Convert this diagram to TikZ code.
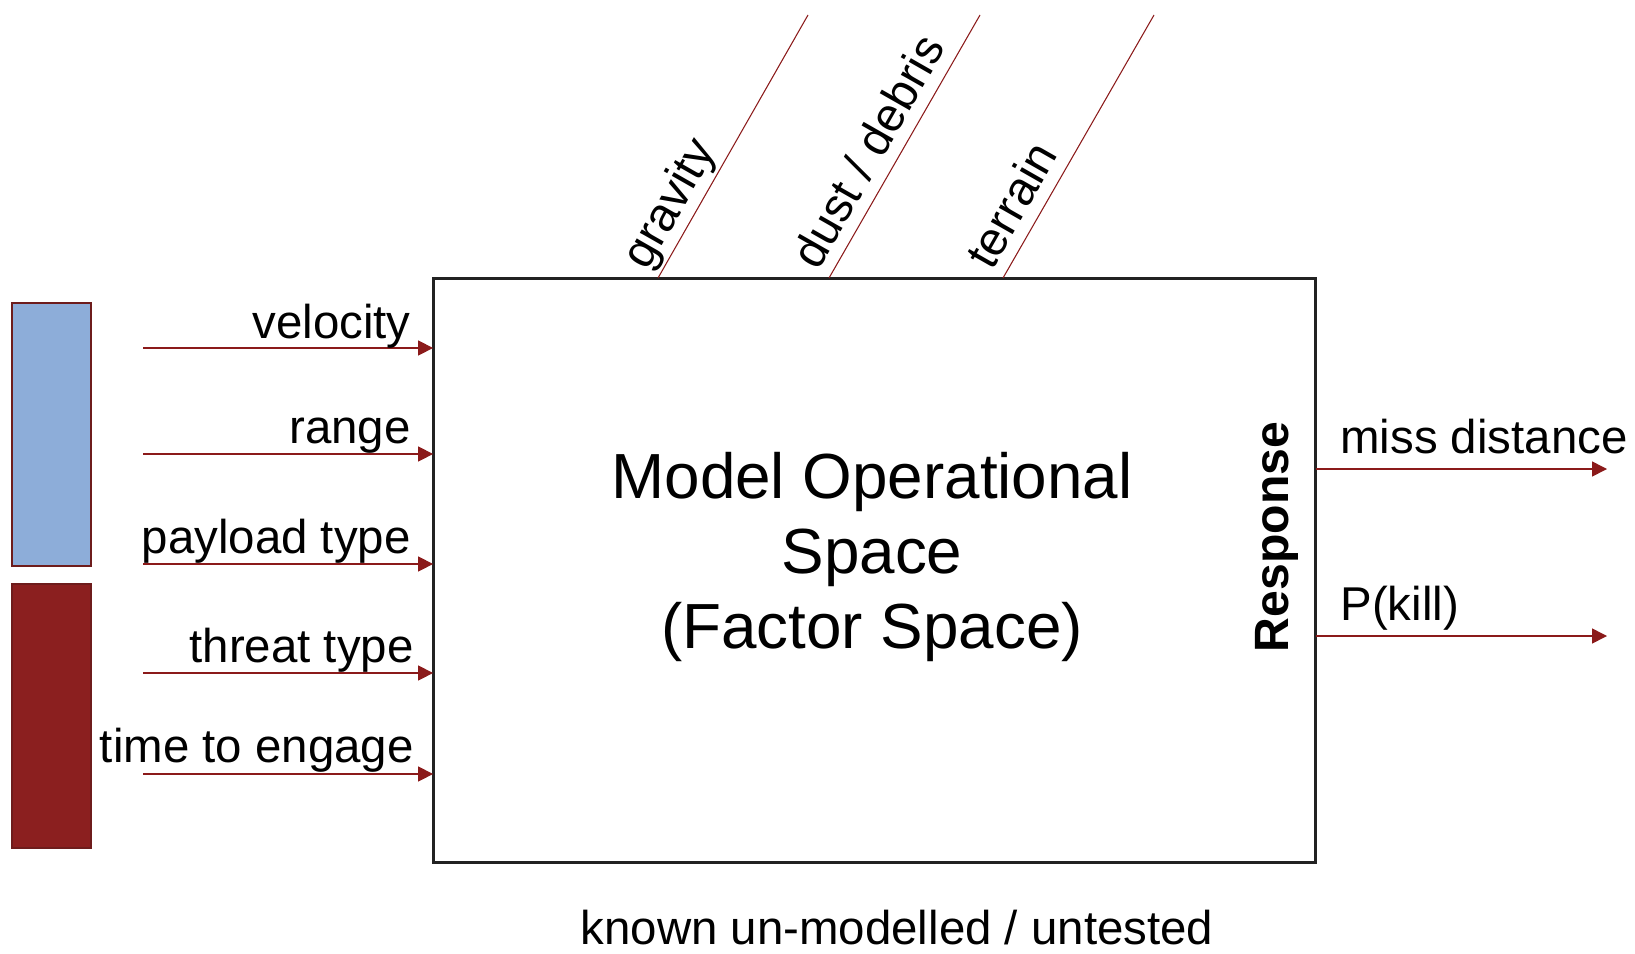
\documentclass[tikz,border=0pt]{standalone}
\usepackage{fontspec}
\setmainfont{Liberation Sans}
\usetikzlibrary{arrows.meta,calc}
\definecolor{arrred}{HTML}{8B1A1A}
\definecolor{barblue}{HTML}{8DADD9}
\definecolor{barred}{HTML}{8B1F1F}
\definecolor{baredge}{HTML}{6E1C1C}
\definecolor{boxline}{HTML}{222222}
\begin{document}
\begin{tikzpicture}[x=0.02cm,y=-0.02cm,
  lbl/.style={font=\fontsize{27pt}{32pt}\selectfont, inner sep=0pt},
  ttl/.style={font=\fontsize{36.3pt}{42pt}\selectfont, inner sep=0pt, anchor=base},
  arr/.style={draw=arrred, line width=0.85pt, -{Triangle[length=8.5pt,width=8.5pt]}},
  fac/.style={draw=arrred, line width=0.6pt},
  factxt/.style={font=\fontsize{27pt}{32pt}\selectfont, inner sep=0pt, rotate=60.3, anchor=base west},
  bar/.style={draw=baredge, line width=1.2pt, inner sep=0pt, minimum width=1.58cm}]
\useasboundingbox (0,0) rectangle (1635,953);

% bars
\node[bar, fill=barblue, minimum height=5.26cm] (bblue) at (51.5,434.5) {};
\node[bar, fill=barred, minimum height=5.28cm] (bred) at (51.5,716) {};

% main box
\node[draw=boxline, line width=1.7pt, minimum width=17.66cm, minimum height=11.7cm, inner sep=0pt, outer sep=0pt] (box) at (874.5,570.5) {};

% title
\node[ttl] (t1) at (872,498) {Model Operational};
\node[ttl] (t2) at (872,573) {Space};
\node[ttl] (t3) at (872,648) {(Factor Space)};

% response
\node[font=\fontsize{27.4pt}{32pt}\selectfont\bfseries, inner sep=0pt, rotate=90, anchor=base] (resp) at (1288,537) {Response};

% left inputs
\coordinate (a1) at (143,348);
\coordinate (a2) at (143,454);
\coordinate (a3) at (143,564);
\coordinate (a4) at (143,673);
\coordinate (a5) at (143,774);
\draw[arr] (a1) -- (a1 -| box.west);
\draw[arr] (a2) -- (a2 -| box.west);
\draw[arr] (a3) -- (a3 -| box.west);
\draw[arr] (a4) -- (a4 -| box.west);
\draw[arr] (a5) -- (a5 -| box.west);
\node[lbl, anchor=base east] (l1) at (411,338) {velocity};
\node[lbl, anchor=base east] (l2) at (411,443) {range};
\node[lbl, anchor=base east] (l3) at (411,553) {payload type};
\node[lbl, anchor=base east] (l4) at (414,662) {threat type};
\node[lbl, anchor=base east] (l5) at (414,762) {time to engage};

% right outputs
\coordinate (o1) at (1607,469);
\coordinate (o2) at (1607,636);
\draw[arr] (o1 -| box.east) -- (o1);
\draw[arr] (o2 -| box.east) -- (o2);
\node[lbl, anchor=base west] (r1) at (1340,453) {miss distance};
\node[lbl, anchor=base west] (r2) at (1340,620) {P(kill)};

% un-modelled factors
\coordinate (gB) at (658,278); \coordinate (gT) at (808,15);
\coordinate (dB) at (829,278); \coordinate (dT) at (980,15);
\coordinate (tB) at (1003,278); \coordinate (tT) at (1154,15);
\draw[fac] (gB) -- (gT);
\draw[fac] (dB) -- (dT);
\draw[fac] (tB) -- (tT);
\node[factxt] (f1) at (647,272) {gravity};
\node[factxt] (f2) at (818,272) {dust / debris};
\node[factxt] (f3) at (992,272) {terrain};

% bottom note
\node[lbl, anchor=base] (note) at (897,944) {known un-modelled / untested};
\end{tikzpicture}
\end{document}
